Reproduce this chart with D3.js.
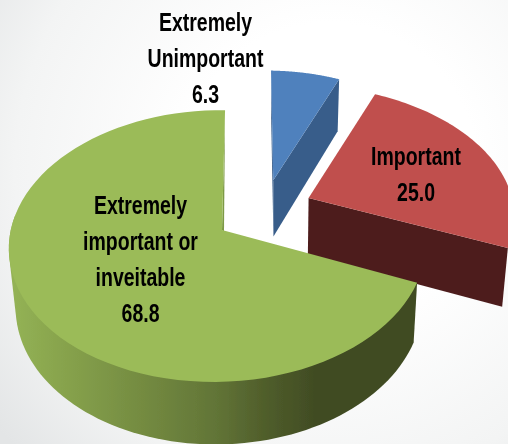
<!DOCTYPE html>
<html><head><meta charset="utf-8">
<script src="https://cdnjs.cloudflare.com/ajax/libs/d3/7.8.5/d3.min.js"></script>
<style>html,body{margin:0;padding:0;background:#fff;overflow:hidden}svg{display:block}</style>
</head><body><svg id="c" width="508" height="444"></svg>
<script>
const categories = ["Extremely Unimportant", "Important", "Extremely important or inveitable"];
const values = [6.3, 25.0, 68.8];
const labelLines = [["Extremely", "Unimportant", "6.3"], ["Important", "25.0"], ["Extremely", "important or", "inveitable", "68.8"]];
const topColors = ["#4f81bd", "#c0504d", "#9bbb59"];
const sideColors = ["#385d8a", "#4e1f1f", "#404b23"];
const explode = [[0.254, 0.391], [0.43, 0.247], [0, 0]];
const widen = [1, 1.05, 1];
const labelAnchors = [[205.5, 31], [416, 165], [140.5, 214]];

const W = 508, H = 444;
const svg = d3.select("#c");
const defs = svg.append("defs");
const bg = defs.append("radialGradient").attr("id", "bg").attr("gradientUnits", "userSpaceOnUse")
  .attr("cx", 330).attr("cy", 170).attr("r", 420);
bg.append("stop").attr("offset", 0.35).attr("stop-color", "#ffffff");
bg.append("stop").attr("offset", 0.75).attr("stop-color", "#f3f4f4");
bg.append("stop").attr("offset", 1).attr("stop-color", "#e3e5e6");
const wg = defs.append("linearGradient").attr("id", "wall").attr("gradientUnits", "userSpaceOnUse")
  .attr("x1", 10).attr("x2", 420).attr("y1", 0).attr("y2", 0);
[[0, "#94b355"], [0.25, "#7b9445"], [0.5, "#627537"], [0.62, "#505e2b"], [0.75, "#404b23"], [1, "#404b23"]]
  .forEach(s => wg.append("stop").attr("offset", s[0]).attr("stop-color", s[1]));
defs.append("filter").attr("id", "soft").append("feGaussianBlur").attr("stdDeviation", 0.35);
svg.append("rect").attr("width", W).attr("height", H).attr("fill", "url(#bg)");

// perspective map from the pie's unit disc to the page
const ax = 222, ay = 230, A = 207, B = 134, S = 3.4, K = 0.118, M = 0.02;
function project(u, v) {
  const d = 1 + K * v + M * u;
  return [ax + (A * u + S * v) / d, ay - B * v / d];
}
const lift = ([x, y], v) => [280 + (x - 280) * 0.975, y + 58 - 4.5 * v];
const line = d3.line();
const pie = d3.pie().sort(null).startAngle(0).endAngle(2 * Math.PI)(values);

function rim(a0, a1, off, wide, low) {
  return d3.range(0, 81).map(i => {
    const a = a0 + (a1 - a0) * i / 80;
    const u = off[0] + wide * Math.sin(a), v = off[1] + Math.cos(a);
    const p = project(u, v);
    return low ? lift(p, v) : p;
  });
}
const g = svg.append("g").attr("filter", "url(#soft)");
pie.forEach((p, i) => {
  const off = explode[i], wide = widen[i];
  const c = project(off[0], off[1]);
  const cLow = lift(c, off[1]);
  const top = rim(p.startAngle, p.endAngle, off, wide, false);
  if (i < 2) {
    const u = off[0] + wide * Math.sin(p.endAngle), v = off[1] + Math.cos(p.endAngle);
    const e = project(u, v);
    g.append("path").attr("d", line([c, e, lift(e, v), cLow]) + "Z").attr("fill", sideColors[i]);
    if (i === 0) g.append("path").attr("d", line([c, top[0], lift(top[0], off[1] + 1), cLow]) + "Z").attr("fill", sideColors[i]);
  } else {
    const a1 = p.startAngle + (p.endAngle - p.startAngle) * 0.66;
    const t = rim(p.startAngle, a1, off, wide, false);
    const b = rim(p.startAngle, a1, off, wide, true);
    g.append("path").attr("d", line(d3.polygonHull(t.concat(b))) + "Z").attr("fill", "url(#wall)");
    const endP = top[top.length - 1];
    g.append("path").attr("d", line([endP, [c[0] + 2, c[1] + 2], c]) + "Z").attr("fill", "#7d9a45");
  }
  g.append("path").attr("d", line([c].concat(top)) + "Z").attr("fill", topColors[i]);
});

const fontSize = 25, lead = 36, squeeze = 0.78;
const t = svg.append("g").attr("font-family", "'Liberation Sans',sans-serif").attr("filter", "url(#soft)")
  .attr("font-weight", "bold").attr("font-size", fontSize).attr("fill", "#000").attr("text-anchor", "middle");
labelLines.forEach((lines, i) => lines.forEach((s, j) =>
  t.append("text")
    .attr("transform", `translate(${labelAnchors[i][0]},${labelAnchors[i][1] + j * lead}) scale(${squeeze},1)`)
    .text(s)));
</script></body></html>
